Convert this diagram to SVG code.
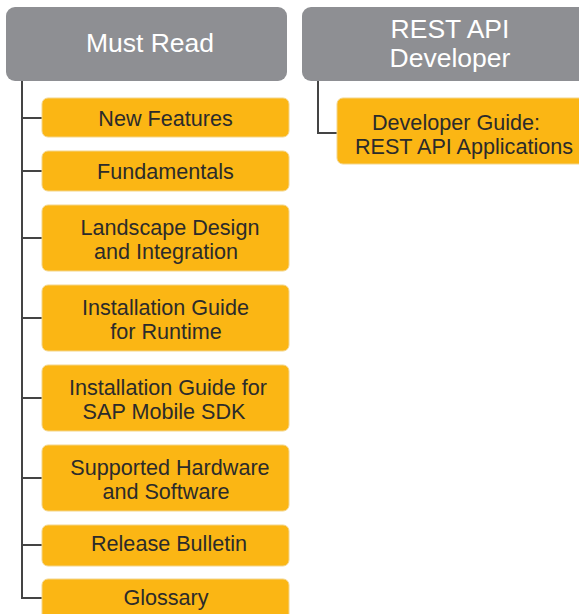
<svg xmlns="http://www.w3.org/2000/svg" width="579" height="614" viewBox="0 0 579 614">
<style>
.hdr{fill:#8e8f93;}
.box{fill:#fbb614;stroke:#f3d58a;stroke-width:1;}
.ht{font-family:"Liberation Sans","Noto Sans",sans-serif;font-size:26.5px;fill:#ffffff;text-anchor:middle;}
.bt{font-family:"Liberation Sans","Noto Sans",sans-serif;font-size:21.6px;fill:#2b2b2b;text-anchor:middle;}
.ln{fill:none;stroke:#444444;stroke-width:2;}
</style>
<rect width="579" height="614" fill="#ffffff"/>
<g id="connectors">
<path class="ln" d="M22 81 V598 H43"/>
<path class="ln" d="M22 118 H43 M22 171 H43 M22 238 H43 M22 318 H43 M22 398 H43 M22 478 H43 M22 545 H43"/>
<path class="ln" d="M318 81 V133 H338"/>
</g>
<g id="must-read"><rect class="hdr" x="6" y="7" width="281" height="74" rx="9"/><text class="ht" x="150" y="52">Must Read</text></g>
<g id="rest-api-developer"><rect class="hdr" x="302" y="7" width="296" height="74" rx="9"/><text class="ht" x="450" y="38">REST API</text><text class="ht" x="450" y="67">Developer</text></g>
<g id="new-features"><rect class="box" x="42" y="98" width="247" height="39" rx="6"/><text class="bt" x="165.5" y="125.5">New Features</text></g>
<g id="fundamentals"><rect class="box" x="42" y="151" width="247" height="40" rx="6"/><text class="bt" x="165.5" y="178.5">Fundamentals</text></g>
<g id="landscape"><rect class="box" x="42" y="205" width="247" height="66" rx="6"/><text class="bt" x="170" y="235">Landscape Design</text><text class="bt" x="166" y="259">and Integration</text></g>
<g id="install-runtime"><rect class="box" x="42" y="285" width="247" height="66" rx="6"/><text class="bt" x="165.5" y="315">Installation Guide</text><text class="bt" x="166" y="339">for Runtime</text></g>
<g id="install-sdk"><rect class="box" x="42" y="365" width="247" height="66" rx="6"/><text class="bt" x="168" y="395">Installation Guide for</text><text class="bt" x="164" y="419">SAP Mobile SDK</text></g>
<g id="supported"><rect class="box" x="42" y="445" width="247" height="66" rx="6"/><text class="bt" x="170" y="475">Supported Hardware</text><text class="bt" x="166" y="499">and Software</text></g>
<g id="release-bulletin"><rect class="box" x="42" y="525" width="247" height="41" rx="6"/><text class="bt" x="169" y="551">Release Bulletin</text></g>
<g id="glossary"><rect class="box" x="42" y="579" width="247" height="45" rx="6"/><text class="bt" x="166" y="605">Glossary</text></g>
<g id="developer-guide"><rect class="box" x="337" y="98" width="254" height="66" rx="6"/><text class="bt" x="456" y="130">Developer Guide:</text><text class="bt" x="464" y="154">REST API Applications</text></g>
</svg>
